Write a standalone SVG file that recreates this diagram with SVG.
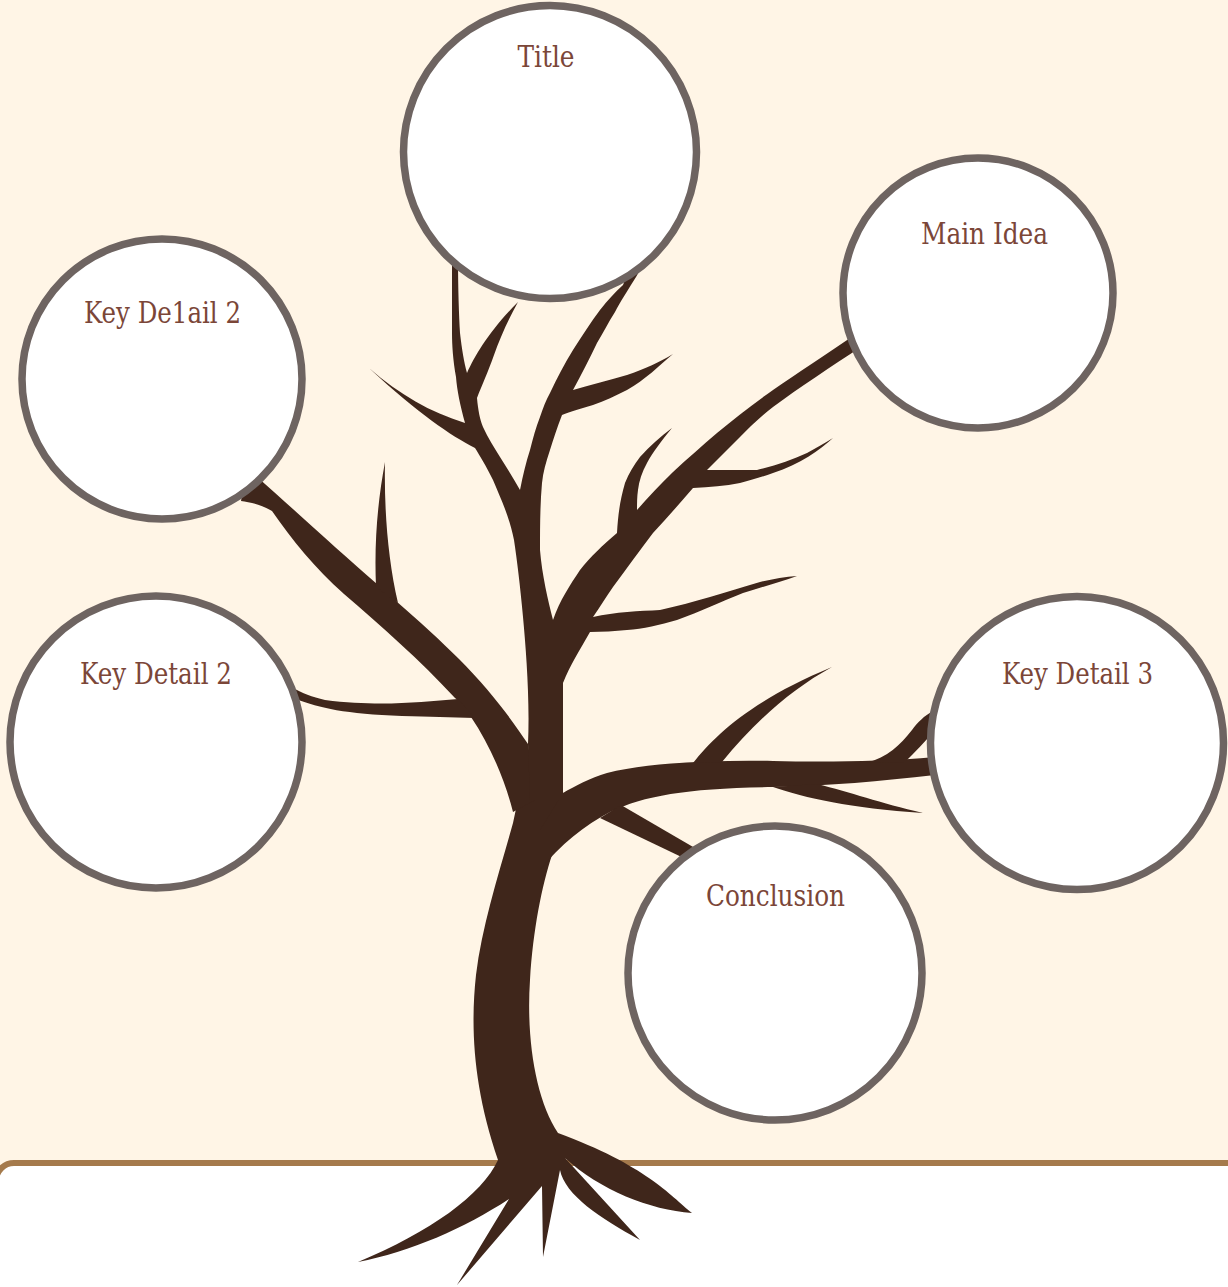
<svg xmlns="http://www.w3.org/2000/svg" width="1228" height="1287" viewBox="0 0 1228 1287">
<style>
.bg{fill:#fff5e6}
.ground{fill:#ffffff;stroke:#a57a4c;stroke-width:6}
.tree path{fill:#3f261b}
.node circle{fill:#ffffff;stroke:#6e6461;stroke-width:7.5}
.node text{font-family:"DejaVu Serif Condensed","DejaVu Serif","Liberation Serif",serif;font-stretch:condensed;font-size:30px;fill:#7b4638;text-anchor:middle}
</style>
<rect class="bg" x="0" y="0" width="1228" height="1287"/>
<rect class="ground" x="-4" y="1163" width="1300" height="160" rx="18"/>
<g id="connectors" class="tree">
<path d="M520,790 L513,823 C500,870 482,925 476,975 C470,1030 474,1090 498,1160 C482,1195 430,1232 358,1262 C410,1252 465,1228 509,1199 L457,1285 L542,1186 L543,1257 L560,1170 C565,1195 600,1218 640,1240 L565,1158 C600,1190 650,1210 692,1213 C670,1195 645,1165 558,1133 C536,1100 526,1040 530,980 C533,930 542,885 552,855 L565,793 Z"/>
<path d="M540,870 C560,845 585,825 610,812 C645,795 690,788 773,787 C830,786 880,781 935,775 L935,757 C880,762 820,762 773,761 C720,760 650,762 607,773 C590,778 575,786 563,793 L540,830 Z"/>
<path d="M600,818 L692,862 L700,851 L621,805 Z"/>
<path d="M693,763 C715,735 752,700 832,667 C790,690 755,722 722,762 Z"/>
<path d="M866,763 C888,757 900,745 912,730 C918,722 924,716 933,711 L933,732 C925,742 915,752 905,762 Z"/>
<path d="M773,787 C805,798 850,808 923,813 C880,803 850,792 817,784 Z"/>
<path d="M535,800 L513,812 C505,780 490,745 471,717 C465,708 460,702 455,698 C420,660 380,625 344,594 C315,568 292,540 272,511 C262,505 250,502 241,501 L243,490 L255,475 C300,515 340,552 377,584 L396,601 C420,622 440,640 459,659 C490,690 512,720 528,744 L535,790 Z"/>
<path d="M376,587 C374,540 378,500 385,462 C384,510 388,560 398,603 Z"/>
<path d="M458,699 C420,702 380,707 325,700 C312,697 302,693 293,688 L296,699 C320,708 345,714 402,716 C430,717 450,717 475,718 Z"/>
<path d="M530,800 L528,744 C530,700 526,650 523,617 C520,585 517,560 514,540 C509,515 500,497 493,480 C486,466 480,456 475,448 C450,435 420,415 369,368 C400,395 430,412 465,423 C460,405 457,390 456,377 C453,360 452,345 452,333 C452,310 452,285 452,255 L458,255 C458,290 459,315 460,333 C462,350 464,362 467,373 C475,355 490,330 518,302 C508,320 500,338 494,355 C488,372 482,385 477,398 C478,410 480,420 483,427 C488,438 494,447 500,457 C507,468 514,479 520,490 C523,475 526,462 530,450 C533,438 536,427 540,417 C543,408 546,400 550,393 C557,378 565,363 573,350 C582,336 591,322 600,310 C608,300 615,292 623,285 L628,272 L640,270 L636,277 C628,290 620,302 615,312 C608,323 603,333 597,343 C590,358 581,375 573,390 C590,385 610,380 627,375 C645,369 660,362 673,354 C660,365 645,380 627,390 C615,396 605,401 593,405 C582,408 570,412 562,415 C557,428 553,440 550,450 C546,462 543,472 542,483 C540,505 540,530 540,550 C542,575 548,600 553,620 C560,600 570,585 580,570 C590,557 603,545 617,533 C618,515 620,500 625,483 C629,473 634,465 640,457 C650,446 660,437 672,428 C662,440 653,452 647,463 C642,472 639,481 638,490 C637,497 637,503 637,510 C648,497 660,485 673,472 C688,458 702,446 717,433 C735,418 753,404 773,390 C798,373 825,355 856,334 L861,347 C832,366 800,387 773,407 C760,417 750,427 740,437 C729,448 718,459 707,470 C725,470 742,470 757,470 C775,466 792,460 807,453 C816,448 825,443 833,438 C820,450 800,464 773,473 C762,477 752,480 740,483 C725,486 710,487 693,488 C680,503 667,518 653,533 C640,550 627,568 613,587 C606,597 600,607 593,617 C615,612 640,611 660,610 C677,606 693,602 710,597 C727,592 743,587 760,582 C772,579 785,577 797,576 C780,582 762,587 743,593 C722,601 700,612 677,620 C660,625 643,629 627,630 C615,631 602,632 590,632 C580,650 570,665 563,683 L563,800 Z"/>
</g>
<g id="node-title" class="node">
<circle cx="550" cy="152" r="146.5"/>
<text x="546" y="67" textLength="57" lengthAdjust="spacingAndGlyphs">Title</text>
</g>
<g id="node-main-idea" class="node">
<circle cx="978" cy="293" r="135"/>
<text x="984.5" y="244" textLength="127" lengthAdjust="spacingAndGlyphs">Main Idea</text>
</g>
<g id="node-key-detail-1" class="node">
<circle cx="162" cy="379" r="140"/>
<text x="162.5" y="323" textLength="157" lengthAdjust="spacingAndGlyphs">Key De1ail 2</text>
</g>
<g id="node-key-detail-2" class="node">
<circle cx="156" cy="742" r="146"/>
<text x="156" y="684" textLength="152" lengthAdjust="spacingAndGlyphs">Key Detail 2</text>
</g>
<g id="node-key-detail-3" class="node">
<circle cx="1077" cy="743" r="146.5"/>
<text x="1077.5" y="684" textLength="151" lengthAdjust="spacingAndGlyphs">Key Detail 3</text>
</g>
<g id="node-conclusion" class="node">
<circle cx="775" cy="973" r="147"/>
<text x="775.5" y="906" textLength="139" lengthAdjust="spacingAndGlyphs">Conclusion</text>
</g>
</svg>
